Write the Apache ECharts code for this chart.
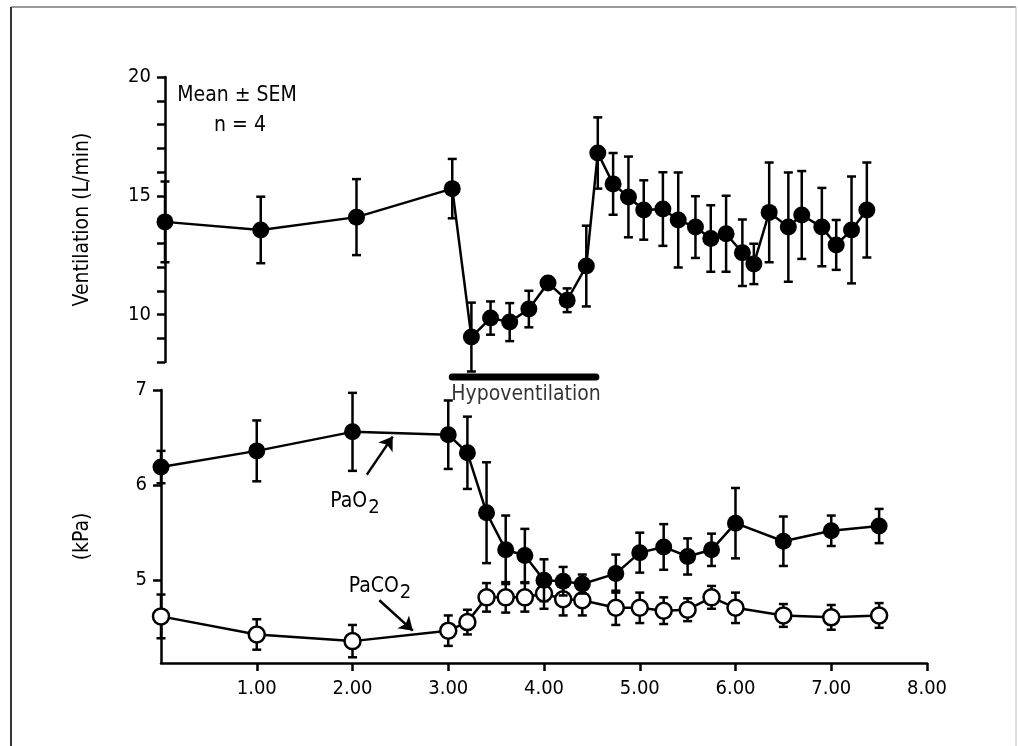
<!DOCTYPE html>
<html>
<head>
<meta charset="utf-8">
<script src="https://cdn.jsdelivr.net/npm/echarts@6/dist/echarts.min.js"></script>
<style>
html,body{margin:0;padding:0;background:#fff;}
#chart{width:1018px;height:746px;}
</style>
</head>
<body>
<div id="chart"></div>
<script>
// ---- Data ----
// Top panel: ventilation (L/min), mean and SEM
const ventTime = [0, 1, 2, 3, 3.2, 3.4, 3.6, 3.8, 4.0, 4.2, 4.4, 4.52, 4.68, 4.84, 5.0, 5.2, 5.36, 5.54, 5.7, 5.86, 6.03, 6.15, 6.31, 6.51, 6.65, 6.86, 7.01, 7.17, 7.33];
const ventMean = [13.9, 13.56, 14.1, 15.3, 9.05, 9.85, 9.68, 10.23, 11.33, 10.6, 12.04, 16.8, 15.5, 14.95, 14.4, 14.44, 13.98, 13.68, 13.2, 13.4, 12.6, 12.13, 14.3, 13.68, 14.19, 13.68, 12.93, 13.56, 14.4];
const ventSem  = [1.7, 1.4, 1.6, 1.25, 1.45, 0.7, 0.8, 0.77, 0.2, 0.5, 1.7, 1.5, 1.3, 1.7, 1.25, 1.55, 2.0, 1.3, 1.4, 1.6, 1.4, 0.85, 2.1, 2.3, 1.85, 1.65, 1.05, 2.25, 2.0];

// Bottom panel: blood gases (kPa)
const gasTime = [0, 1, 2, 3, 3.2, 3.4, 3.6, 3.8, 4.0, 4.2, 4.4, 4.75, 5.0, 5.25, 5.5, 5.75, 6.0, 6.5, 7.0, 7.5];
const pao2Mean = [6.19, 6.36, 6.56, 6.53, 6.34, 5.71, 5.32, 5.26, 5.0, 4.99, 4.96, 5.07, 5.29, 5.35, 5.25, 5.32, 5.6, 5.41, 5.52, 5.57];
const pao2Sem  = [0.17, 0.32, 0.41, 0.36, 0.38, 0.53, 0.36, 0.28, 0.22, 0.15, 0.1, 0.2, 0.21, 0.24, 0.19, 0.17, 0.37, 0.26, 0.16, 0.18];
const paco2Mean = [4.62, 4.43, 4.36, 4.47, 4.56, 4.82, 4.82, 4.82, 4.86, 4.80, 4.79, 4.71, 4.71, 4.68, 4.69, 4.82, 4.71, 4.63, 4.61, 4.63];
const paco2Sem  = [0.23, 0.16, 0.17, 0.16, 0.13, 0.15, 0.16, 0.15, 0.16, 0.17, 0.16, 0.18, 0.16, 0.14, 0.12, 0.12, 0.16, 0.12, 0.13, 0.13];

// Hypoventilation period (h)
const hypoPeriod = [3.0, 4.5];

// Tick values
const xTicks = [1, 2, 3, 4, 5, 6, 7, 8];
const ventTicks = [8, 9, 10, 11, 12, 13, 14, 15, 16, 17, 18, 19, 20];
const ventLabels = [10, 15, 20];
const kpaTicks = [5, 6, 7];

// Annotation texts
const noteStats = 'Mean \u00b1 SEM';
const noteN = 'n = 4';
const hypoLabel = 'Hypoventilation';
const yNameTop = 'Ventilation (L/min)';
const yNameBottom = '(kPa)';

// ---- Helpers ----
const FONT = "'DejaVu Sans Condensed', 'Liberation Sans Narrow', 'Liberation Sans', sans-serif";
const pairs = (xs, ys) => xs.map((x, i) => [x, ys[i]]);
const errs = (xs, m, s) => xs.map((x, i) => [x, m[i] - s[i], m[i] + s[i]]);

function errRender(params, api) {
  const x = api.value(0), lo = api.value(1), hi = api.value(2);
  const p1 = api.coord([x, hi]);
  const p2 = api.coord([x, lo]);
  const w = 4.5;
  const st = { stroke: '#000', lineWidth: 2.5 };
  return {
    type: 'group',
    children: [
      { type: 'line', shape: { x1: p1[0], y1: p1[1], x2: p2[0], y2: p2[1] }, style: st },
      { type: 'line', shape: { x1: p1[0] - w, y1: p1[1], x2: p1[0] + w, y2: p1[1] }, style: st },
      { type: 'line', shape: { x1: p2[0] - w, y1: p2[1], x2: p2[0] + w, y2: p2[1] }, style: st }
    ]
  };
}

const axisLine = { show: true, lineStyle: { color: '#000', width: 2.5 } };
const tickStyle = { lineStyle: { color: '#000', width: 2.5 } };
const labelStyle = { color: '#000', fontSize: 20, fontFamily: FONT };

const chart = echarts.init(document.getElementById('chart'), null, { renderer: 'canvas' });

const option = {
  animation: false,
  backgroundColor: '#fff',
  grid: [
    { left: 165, top: 77, width: 766, height: 285 },
    { left: 161, top: 390, width: 766, height: 273 },
    { left: 165, top: 372, width: 766, height: 10 }
  ],
  xAxis: [
    { gridIndex: 0, type: 'value', min: 0, max: 8, show: false },
    {
      gridIndex: 1, type: 'value', min: 0, max: 8,
      axisLine: axisLine,
      axisTick: Object.assign({ show: true, length: 8, customValues: xTicks }, tickStyle),
      axisLabel: Object.assign({ customValues: xTicks, margin: 16, formatter: v => v.toFixed(2) }, labelStyle),
      splitLine: { show: false }
    },
    { gridIndex: 2, type: 'value', min: 0, max: 8, show: false }
  ],
  yAxis: [
    {
      gridIndex: 0, type: 'value', min: 8, max: 20,
      axisLine: axisLine,
      axisTick: Object.assign({ show: true, length: 8, customValues: ventTicks }, tickStyle),
      axisLabel: Object.assign({ customValues: ventLabels, margin: 14 }, labelStyle),
      splitLine: { show: false },
      name: yNameTop, nameLocation: 'middle', nameGap: 72, nameRotate: 90,
      nameTextStyle: { color: '#000', fontSize: 21, fontFamily: FONT }
    },
    {
      gridIndex: 1, type: 'value', min: 4.13, max: 7,
      axisLine: axisLine,
      axisTick: Object.assign({ show: true, length: 8, customValues: kpaTicks }, tickStyle),
      axisLabel: Object.assign({ customValues: kpaTicks, margin: 14 }, labelStyle),
      splitLine: { show: false },
      name: yNameBottom, nameLocation: 'middle', nameGap: 68, nameRotate: 90,
      nameTextStyle: { color: '#000', fontSize: 21, fontFamily: FONT, padding: [0, 20, 0, 0] }
    },
    { gridIndex: 2, type: 'value', min: 0, max: 1, show: false }
  ],
  graphic: [
    { type: 'line', shape: { x1: 11, y1: 7, x2: 1016, y2: 7 }, style: { stroke: '#999', lineWidth: 2 } },
    { type: 'line', shape: { x1: 11, y1: 7, x2: 11, y2: 746 }, style: { stroke: '#333', lineWidth: 2 } },
    { type: 'line', shape: { x1: 1016, y1: 7, x2: 1016, y2: 746 }, style: { stroke: '#bbb', lineWidth: 1 } },
    { type: 'text', x: 237, y: 96, style: { text: noteStats, fill: '#000', font: '21px ' + FONT, textAlign: 'center', textVerticalAlign: 'middle' } },
    { type: 'text', x: 240, y: 126, style: { text: noteN, fill: '#000', font: '21px ' + FONT, textAlign: 'center', textVerticalAlign: 'middle' } },
    {
      type: 'text', x: 355, y: 502,
      style: {
        text: 'PaO{s|2}', fill: '#000', font: '21px ' + FONT, fontSize: 21, fontFamily: FONT,
        textAlign: 'center', textVerticalAlign: 'middle',
        rich: { s: { fontSize: 20, fontFamily: FONT, fill: '#000', padding: [12, 0, 0, 1] } }
      }
    },
    {
      type: 'text', x: 380, y: 587,
      style: {
        text: 'PaCO{s|2}', fill: '#000', font: '21px ' + FONT, fontSize: 21, fontFamily: FONT,
        textAlign: 'center', textVerticalAlign: 'middle',
        rich: { s: { fontSize: 20, fontFamily: FONT, fill: '#000', padding: [12, 0, 0, 1] } }
      }
    }
  ],
  series: [
    // top: ventilation
    {
      type: 'custom', xAxisIndex: 0, yAxisIndex: 0, renderItem: errRender,
      data: errs(ventTime, ventMean, ventSem), encode: { x: 0, y: [1, 2] }, silent: true, z: 2
    },
    {
      type: 'line', xAxisIndex: 0, yAxisIndex: 0, data: pairs(ventTime, ventMean),
      symbol: 'circle', symbolSize: 17, itemStyle: { color: '#000' },
      lineStyle: { color: '#000', width: 2.5 }, silent: true, z: 3
    },
    // bottom: PaCO2
    {
      type: 'custom', xAxisIndex: 1, yAxisIndex: 1, renderItem: errRender,
      data: errs(gasTime, paco2Mean, paco2Sem), encode: { x: 0, y: [1, 2] }, silent: true, z: 2
    },
    {
      type: 'line', xAxisIndex: 1, yAxisIndex: 1, data: pairs(gasTime, paco2Mean),
      symbol: 'circle', symbolSize: 16, showAllSymbol: true,
      itemStyle: { color: '#fff', borderColor: '#000', borderWidth: 2.5 },
      lineStyle: { color: '#000', width: 2.5 }, silent: true, z: 3
    },
    // bottom: PaO2
    {
      type: 'custom', xAxisIndex: 1, yAxisIndex: 1, renderItem: errRender,
      data: errs(gasTime, pao2Mean, pao2Sem), encode: { x: 0, y: [1, 2] }, silent: true, z: 4
    },
    {
      type: 'line', xAxisIndex: 1, yAxisIndex: 1, data: pairs(gasTime, pao2Mean),
      symbol: 'circle', symbolSize: 17, showAllSymbol: true, itemStyle: { color: '#000' },
      lineStyle: { color: '#000', width: 2.5 }, silent: true, z: 5,
      markLine: {
        silent: true, symbol: ['none', 'arrow'], symbolSize: 13,
        label: { show: false },
        lineStyle: { color: '#000', width: 2.5, type: 'solid' },
        emphasis: { disabled: true },
        data: [
          [{ coord: [2.15, 6.11] }, { coord: [2.42, 6.51] }],
          [{ coord: [2.28, 4.79] }, { coord: [2.63, 4.47] }]
        ]
      }
    },
    // hypoventilation bar
    {
      type: 'line', xAxisIndex: 2, yAxisIndex: 2,
      data: hypoPeriod.map(t => [t, 0.5]), symbol: 'none',
      lineStyle: { color: '#000', width: 7, cap: 'round' }, silent: true
    },
    {
      type: 'scatter', xAxisIndex: 2, yAxisIndex: 2,
      data: [[(hypoPeriod[0] + hypoPeriod[1]) / 2 + 0.02, 0]], symbolSize: 0, silent: true,
      label: { show: true, position: 'bottom', distance: 2, formatter: hypoLabel, color: '#000', fontSize: 21, fontFamily: FONT }
    }
  ]
};
chart.setOption(option);
</script>
</body>
</html>
